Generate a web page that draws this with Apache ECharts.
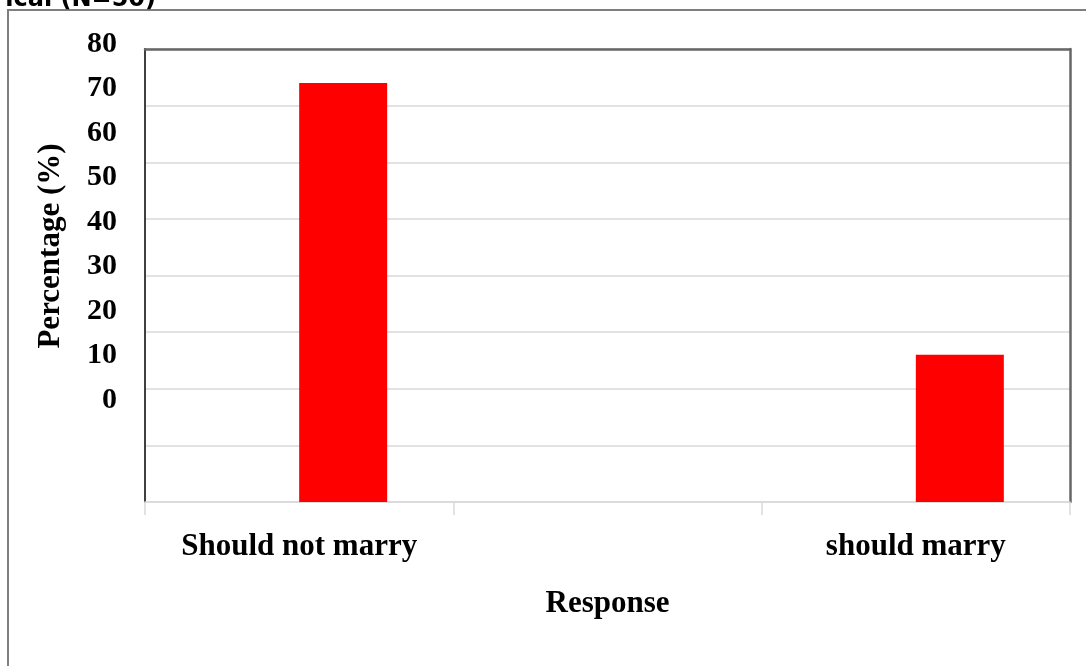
<!DOCTYPE html>
<html>
<head>
<meta charset="utf-8">
<title>Response percentage</title>
<script src="https://cdn.jsdelivr.net/npm/echarts@6/dist/echarts.min.js"></script>
<style>
  html, body { margin: 0; padding: 0; background: #ffffff; }
  #chart { width: 1086px; height: 666px; }
</style>
</head>
<body>
<div id="chart"></div>
<script>
// Response categories (the middle slot is an empty category)
const categories = ['Should not marry', '', 'should marry'];
// Percentage of respondents per category
const responseValues = [74, null, 26];
// Empty companion series that holds the left half of each category slot
const spacerValues = [null, null, null];
// Vertical axis range and step
const yMin = 0;
const yMax = 80;
const yStep = 10;

const serif = '"Liberation Serif", "Times New Roman", serif';
const chart = echarts.init(document.getElementById('chart'), null, { renderer: 'canvas' });

chart.setOption({
  backgroundColor: '#ffffff',
  animation: false,
  graphic: [
    {
      type: 'rect',
      shape: { x: 8, y: 10, width: 1100, height: 700 },
      style: { fill: 'none', stroke: '#7f7f7f', lineWidth: 2 },
      silent: true
    },
    {
      type: 'text',
      x: 156, y: 12,
      style: {
        text: 'ical (N=50)',
        font: 'bold 24px "DejaVu Sans", Verdana, sans-serif',
        fill: '#000000',
        align: 'right',
        verticalAlign: 'bottom'
      }
    },
    {
      type: 'text',
      x: 51, y: 246,
      rotation: Math.PI / 2,
      style: {
        text: 'Percentage (%)',
        font: 'bold 31px ' + serif,
        fill: '#000000',
        align: 'center',
        verticalAlign: 'middle'
      }
    }
  ],
  grid: [
    { left: 145, right: 16, top: 49, bottom: 164 },
    { left: 145, right: 16, top: 44, bottom: 266 }
  ],
  xAxis: [
    {
      type: 'category',
      gridIndex: 0,
      data: categories,
      position: 'bottom',
      axisLine: { onZero: false, lineStyle: { color: '#d9d9d9', width: 1.5 } },
      axisTick: { show: true, length: 13, lineStyle: { color: '#d9d9d9', width: 1.5 } },
      axisLabel: {
        interval: 0,
        margin: 29,
        color: '#000000',
        fontFamily: serif,
        fontWeight: 'bold',
        fontSize: 31
      },
      name: 'Response',
      nameLocation: 'middle',
      nameGap: 86,
      nameTextStyle: { color: '#000000', fontFamily: serif, fontWeight: 'bold', fontSize: 31 }
    },
    {
      type: 'category',
      gridIndex: 0,
      data: categories,
      position: 'top',
      axisLine: { onZero: false, lineStyle: { color: '#666666', width: 2.5 } },
      axisTick: { show: false },
      axisLabel: { show: false }
    },
    {
      type: 'category',
      gridIndex: 1,
      data: categories,
      show: false
    }
  ],
  yAxis: [
    {
      type: 'value',
      gridIndex: 0,
      min: yMin, max: yMax, interval: yStep,
      position: 'left',
      axisLine: { show: true, onZero: false, lineStyle: { color: '#404040', width: 2 } },
      axisTick: { show: false },
      axisLabel: { show: false },
      splitLine: { show: true, lineStyle: { color: '#d9d9d9', width: 1.5 } }
    },
    {
      type: 'value',
      gridIndex: 0,
      min: yMin, max: yMax, interval: yStep,
      position: 'right',
      axisLine: { show: true, onZero: false, lineStyle: { color: '#666666', width: 2.5 } },
      axisTick: { show: false },
      axisLabel: { show: false },
      splitLine: { show: false }
    },
    {
      type: 'value',
      gridIndex: 1,
      min: yMin, max: yMax, interval: yStep,
      position: 'left',
      axisLine: { show: false },
      axisTick: { show: false },
      splitLine: { show: false },
      axisLabel: {
        margin: 28,
        color: '#000000',
        fontFamily: serif,
        fontWeight: 'bold',
        fontSize: 30,
        showMinLabel: true,
        showMaxLabel: true
      }
    }
  ],
  series: [
    {
      type: 'bar',
      xAxisIndex: 0,
      yAxisIndex: 0,
      data: spacerValues,
      barWidth: 88,
      barGap: '0%',
      itemStyle: { color: 'rgba(0,0,0,0)' },
      silent: true
    },
    {
      type: 'bar',
      name: 'Percentage',
      xAxisIndex: 0,
      yAxisIndex: 0,
      data: responseValues,
      barWidth: 88,
      barGap: '0%',
      itemStyle: { color: '#ff0000' }
    }
  ]
});
</script>
</body>
</html>
